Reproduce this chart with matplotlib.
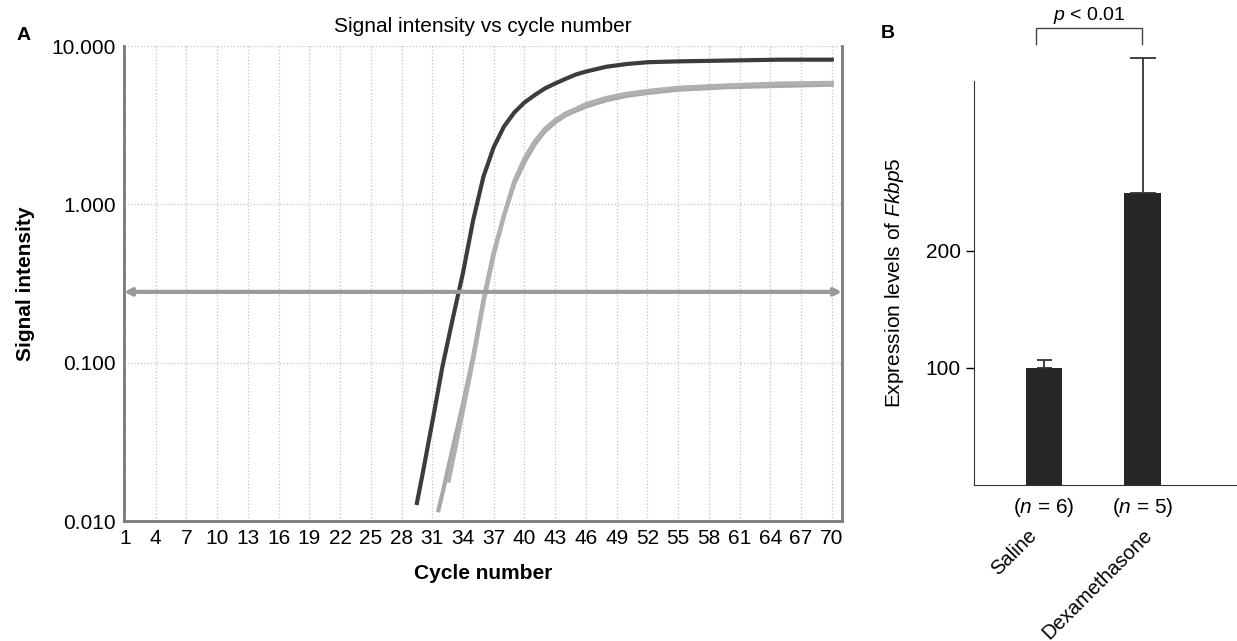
import matplotlib.pyplot as plt
from matplotlib.transforms import blended_transform_factory

plt.rcParams['font.family'] = ['Liberation Sans', 'DejaVu Sans']
plt.rcParams['mathtext.fontset'] = 'custom'
plt.rcParams['mathtext.rm'] = 'Liberation Sans'
plt.rcParams['mathtext.it'] = 'Liberation Sans:italic'

# panel A: amplification curves
dark_cycles = [29.5, 30, 31, 32, 33, 34, 35, 36, 37, 38, 39, 40, 41, 42, 43, 44, 45, 46,
               48, 50, 52, 55, 60, 65, 70]
dark_signal = [0.013, 0.019, 0.042, 0.095, 0.19, 0.37, 0.8, 1.5, 2.3, 3.1, 3.8, 4.4, 4.9,
               5.4, 5.8, 6.2, 6.6, 6.9, 7.4, 7.7, 7.9, 8.0, 8.1, 8.2, 8.2]

light1_cycles = [31.6, 32, 33, 34, 35, 36, 37, 38, 39, 40, 41, 42, 43, 44, 45, 46, 48, 50,
                 52, 55, 60, 65, 70]
light1_signal = [0.0117, 0.015, 0.029, 0.055, 0.11, 0.25, 0.5, 0.85, 1.35, 1.85, 2.4, 2.9,
                 3.3, 3.65, 3.9, 4.15, 4.55, 4.85, 5.05, 5.3, 5.5, 5.6, 5.7]

light2_cycles = [32.6, 33, 34, 35, 36, 37, 38, 39, 40, 41, 42, 43, 44, 45, 46, 48, 50, 52,
                 55, 60, 65, 70]
light2_signal = [0.018, 0.024, 0.05, 0.105, 0.24, 0.48, 0.85, 1.4, 1.95, 2.5, 3.0, 3.4, 3.75,
                 4.0, 4.3, 4.7, 5.0, 5.2, 5.45, 5.65, 5.8, 5.85]

threshold = 0.28
cycle_ticks = list(range(1, 71, 3))
signal_ticks = [0.01, 0.1, 1, 10]
signal_labels = ['0.010', '0.100', '1.000', '10.000']

# panel B: expression levels
groups = ['Saline', 'Dexamethasone']
n_labels = ['($n$ = 6)', '($n$ = 5)']
expr_mean = [100, 249]
expr_err = [7, 116]

fig = plt.figure(figsize=(12.37, 6.41), dpi=100)

# ---- panel A ----
ax = fig.add_axes([0.1002, 0.1872, 0.5805, 0.741])
ax.set_yscale('log')
ax.plot(light1_cycles, light1_signal, color='#a8a8a8', lw=3)
ax.plot(light2_cycles, light2_signal, color='#b0b0b0', lw=3)
ax.plot(dark_cycles, dark_signal, color='#3c3c3c', lw=3)
ax.annotate('', xy=(71, threshold), xytext=(0.9, threshold),
            arrowprops=dict(arrowstyle='<->', color='#9a9a9a', lw=3, shrinkA=0, shrinkB=0))
ax.set_xlim(0.9, 71)
ax.set_ylim(0.01, 10)
ax.set_xticks(cycle_ticks)
ax.set_yticks(signal_ticks)
ax.set_yticklabels(signal_labels)
ax.minorticks_off()
ax.tick_params(axis='both', length=0, labelsize=15, pad=6)
ax.grid(True, color='#c4c4c4', linestyle=':', lw=0.9)
ax.spines['top'].set_visible(False)
for s in ['left', 'bottom', 'right']:
    ax.spines[s].set_color('#7a7a7a')
    ax.spines[s].set_linewidth(2)
ax.set_title('Signal intensity vs cycle number', fontsize=15, pad=10)
ax.set_xlabel('Cycle number', fontsize=15, fontweight='bold', labelpad=11)
ax.set_ylabel('Signal intensity', fontsize=15, fontweight='bold', labelpad=12)
fig.text(0.013, 0.945, 'A', fontsize=14, fontweight='bold', va='center')

# ---- panel B ----
bx = fig.add_axes([0.7874, 0.2434, 0.2126, 0.6302])
pos = [0, 1]
bx.bar(pos, expr_mean, width=0.37, color='#262626')
bx.errorbar(pos[0], expr_mean[0], yerr=[[0], [expr_err[0]]], fmt='none', ecolor='#333333',
            elinewidth=1.3, capsize=5.4, capthick=1.3, clip_on=False)
bx.errorbar(pos[1], expr_mean[1], yerr=[[0], [expr_err[1]]], fmt='none', ecolor='#333333',
            elinewidth=1.3, capsize=9.4, capthick=1.3, clip_on=False)
bx.set_xlim(-0.714, 1.96)
bx.set_ylim(0, 345)
bx.set_yticks([100, 200])
bx.tick_params(axis='y', labelsize=15, length=6, width=1, direction='out')
bx.set_xticks(pos)
bx.set_xticklabels(n_labels, fontsize=15)
bx.tick_params(axis='x', length=0, pad=8)
bx.spines['top'].set_visible(False)
bx.spines['right'].set_visible(False)
bx.spines['left'].set_color('#333333')
bx.spines['bottom'].set_color('#333333')
bx.set_ylabel('Expression levels of $\\mathit{Fkbp5}$', fontsize=15, labelpad=14)

trans = blended_transform_factory(bx.transData, bx.transAxes)
label_shift = [-0.17, 0.0]
for p, g, d in zip(pos, groups, label_shift):
    bx.text(p + d, -0.1, g, transform=trans, rotation=45, ha='right', va='top',
            rotation_mode='anchor', fontsize=14.5)

# significance bracket
bx.plot([-0.08, -0.08, 0.99, 0.99], [377, 390, 390, 377], color='#444444', lw=1, clip_on=False)
bx.text(0.455, 392, '$p$ < 0.01', ha='center', va='bottom', fontsize=14, clip_on=False)
fig.text(0.712, 0.948, 'B', fontsize=14, fontweight='bold', va='center')

fig.savefig('out.png', dpi=100)
